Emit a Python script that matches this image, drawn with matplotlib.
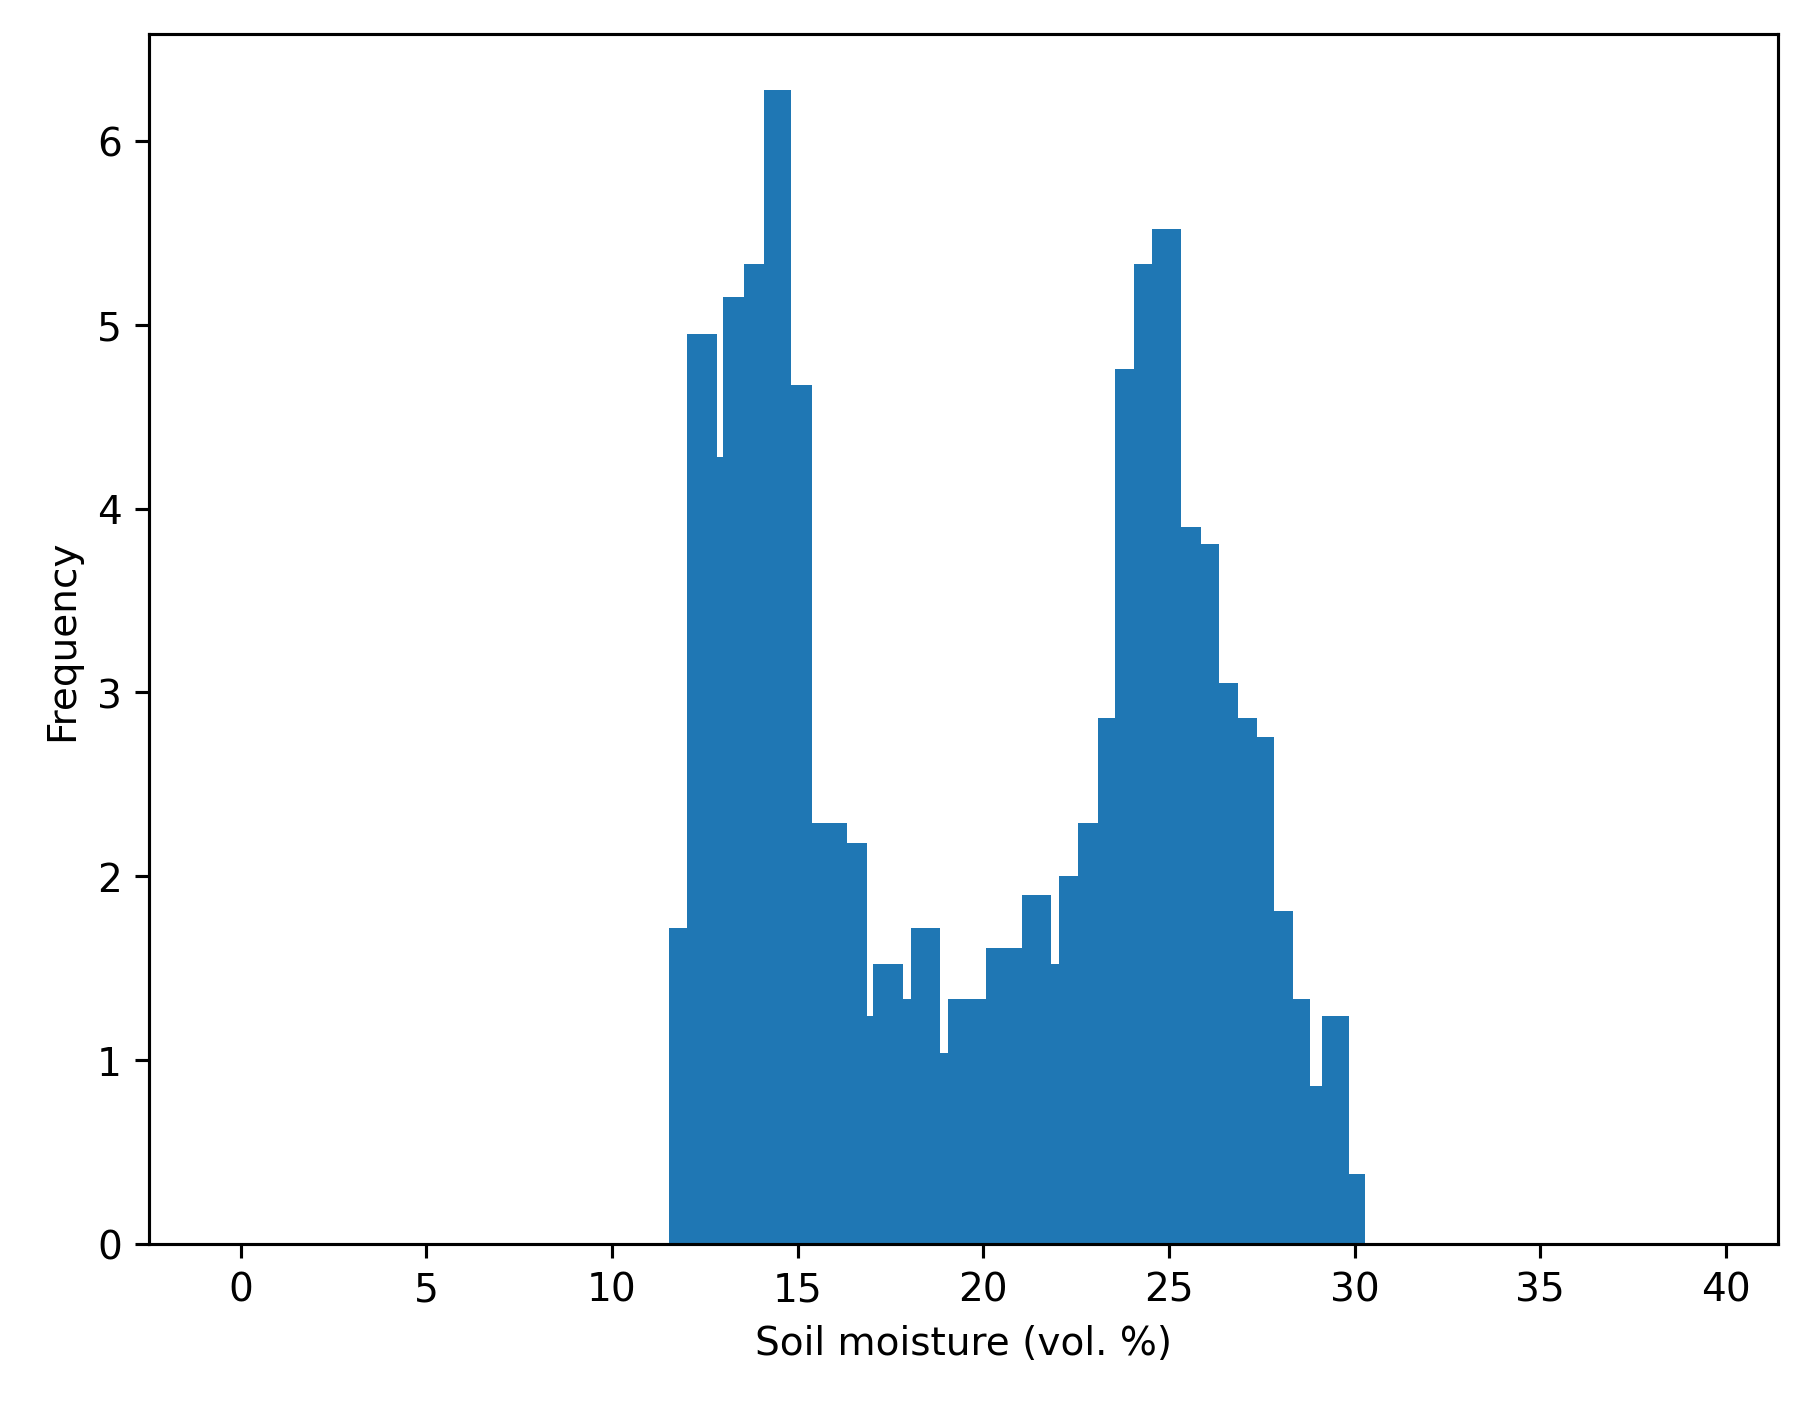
import numpy as np
import matplotlib.pyplot as plt

# bin edges (vol. %) and bar heights
edges = [11.53, 12.02, 12.82, 13.00, 13.56, 14.08, 14.82, 15.38, 16.33, 16.86,
         17.04, 17.84, 18.06, 18.83, 19.04, 20.06, 21.05, 21.82, 22.03, 22.56,
         23.08, 23.54, 24.07, 24.53, 25.33, 25.86, 26.35, 26.87, 27.36, 27.83,
         28.35, 28.81, 29.12, 29.86, 30.29]
heights = [1.72, 4.95, 4.28, 5.15, 5.33, 6.28, 4.67, 2.29, 2.18, 1.24,
           1.52, 1.33, 1.72, 1.04, 1.33, 1.61, 1.90, 1.52, 2.00, 2.29,
           2.86, 4.76, 5.33, 5.52, 3.90, 3.81, 3.05, 2.86, 2.76, 1.81,
           1.33, 0.86, 1.24, 0.38]

fig = plt.figure(figsize=(6.4, 5.006), dpi=280.6)
ax = fig.add_axes([0.083, 0.114, 0.907, 0.861])
ax.hist(edges[:-1], bins=edges, weights=heights, color='#1f77b4')
ax.set_xlim(-2.47, 41.4)
ax.set_ylim(0, 6.58)
ax.set_xticks(range(0, 41, 5))
ax.set_xlabel('Soil moisture (vol. %)')
ax.set_ylabel('Frequency')
fig.savefig('out.png')
